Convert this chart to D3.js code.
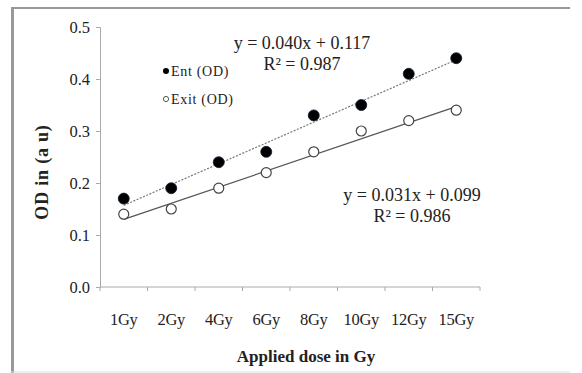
<!DOCTYPE html>
<html>
<head>
<meta charset="utf-8">
<script src="https://cdn.jsdelivr.net/npm/d3@7"></script>
<style>
  body { margin: 0; background: #fff; }
  text { font-family: "Liberation Serif", "Times New Roman", serif; fill: #222; }
</style>
</head>
<body>
<div id="chart"></div>
<script>
var categories = ["1Gy", "2Gy", "4Gy", "6Gy", "8Gy", "10Gy", "12Gy", "15Gy"];
var entValues = [0.17, 0.19, 0.24, 0.26, 0.33, 0.35, 0.41, 0.44];
var exitValues = [0.14, 0.15, 0.19, 0.22, 0.26, 0.30, 0.32, 0.34];
var yTicks = [0.0, 0.1, 0.2, 0.3, 0.4, 0.5];
// trendline [slope, intercept, R²] as printed on the chart
var entTrend = [0.040, 0.117, 0.987];
var exitTrend = [0.031, 0.099, 0.986];

var W = 582, H = 373;
var margin = { top: 27, right: 102, bottom: 86, left: 100 },
    width = W - margin.left - margin.right,
    height = H - margin.top - margin.bottom;

var svg = d3.select("#chart").append("svg")
    .attr("width", W)
    .attr("height", H);

// outer frame
svg.append("line").attr("x1", 11).attr("x2", 570).attr("y1", 8).attr("y2", 8)
    .attr("stroke", "#999").attr("stroke-width", 2);
svg.append("line").attr("x1", 12.5).attr("x2", 12.5).attr("y1", 7).attr("y2", 373)
    .attr("stroke", "#999").attr("stroke-width", 3);
svg.append("line").attr("x1", 11).attr("x2", 570).attr("y1", 372).attr("y2", 372)
    .attr("stroke", "#ddd").attr("stroke-width", 1);

var chart = svg.append("g")
    .attr("transform", "translate(" + margin.left + "," + margin.top + ")");

var xScale = d3.scaleBand().domain(categories).range([0, width]);
var yScale = d3.scaleLinear().domain([0, 0.5]).range([height, 0]);

// y axis
var yAxis = chart.append("g")
    .call(d3.axisLeft(yScale).tickValues(yTicks).tickSize(4).tickPadding(6)
        .tickFormat(d3.format(".1f")));
yAxis.select(".domain").attr("stroke", "#aaa");
yAxis.selectAll(".tick line").attr("stroke", "#aaa");
yAxis.selectAll("text").attr("font-size", "16.5px").attr("fill", "#222")
    .style("font-family", "Liberation Serif, serif");

// x axis, ticks at band boundaries
var xAxis = chart.append("g")
    .attr("transform", "translate(0," + height + ")");
xAxis.append("line").attr("x1", 0).attr("x2", width)
    .attr("stroke", "#aaa");
var bounds = categories.map(function (c) { return xScale(c); }).concat([width]);
xAxis.selectAll(".xt").data(bounds).enter().append("line")
    .attr("x1", function (d) { return d; }).attr("x2", function (d) { return d; })
    .attr("y1", 0).attr("y2", 4).attr("stroke", "#aaa");
xAxis.selectAll(".xl").data(categories).enter().append("text")
    .attr("x", function (d) { return xScale(d) + xScale.bandwidth() / 2; })
    .attr("y", 38)
    .attr("text-anchor", "middle")
    .attr("font-size", "16.5px")
    .attr("letter-spacing", "-0.3px")
    .text(function (d) { return d; });

function xPos(i) { return xScale(categories[i]) + xScale.bandwidth() / 2; }
var n = categories.length;

chart.append("line")
    .attr("x1", xPos(0)).attr("x2", xPos(n - 1))
    .attr("y1", yScale(entTrend[0] * 1 + entTrend[1]))
    .attr("y2", yScale(entTrend[0] * n + entTrend[1]))
    .attr("stroke", "#777").attr("stroke-width", 1.2)
    .attr("stroke-dasharray", "2,1.5");
chart.append("line")
    .attr("x1", xPos(0)).attr("x2", xPos(n - 1))
    .attr("y1", yScale(exitTrend[0] * 1 + exitTrend[1]))
    .attr("y2", yScale(exitTrend[0] * n + exitTrend[1]))
    .attr("stroke", "#555").attr("stroke-width", 1.2);

chart.selectAll(".exitpt").data(exitValues).enter().append("circle")
    .attr("cx", function (d, i) { return xPos(i); })
    .attr("cy", function (d) { return yScale(d); })
    .attr("r", 5)
    .attr("fill", "#fff").attr("stroke", "#444").attr("stroke-width", 1.2);

chart.selectAll(".entpt").data(entValues).enter().append("circle")
    .attr("cx", function (d, i) { return xPos(i); })
    .attr("cy", function (d) { return yScale(d); })
    .attr("r", 5.5)
    .attr("fill", "#000").attr("stroke", "#0d1a33").attr("stroke-width", 0.8);

// equations
var fmt = d3.format(".3f");
function eq(t, x, y) {
    svg.append("text").attr("x", x).attr("y", y).attr("text-anchor", "middle")
        .attr("font-size", "18px")
        .text("y = " + fmt(t[0]) + "x + " + fmt(t[1]));
    svg.append("text").attr("x", x).attr("y", y + 21).attr("text-anchor", "middle")
        .attr("font-size", "18px")
        .text("R² = " + fmt(t[2]));
}
eq(entTrend, 302, 49);
eq(exitTrend, 412, 201);

// legend
svg.append("circle").attr("cx", 166).attr("cy", 71).attr("r", 3).attr("fill", "#000");
svg.append("text").attr("x", 171).attr("y", 76).attr("font-size", "14px")
    .attr("letter-spacing", "0.7px").text("Ent (OD)");
svg.append("circle").attr("cx", 166).attr("cy", 99).attr("r", 2.6)
    .attr("fill", "#fff").attr("stroke", "#444").attr("stroke-width", 0.9);
svg.append("text").attr("x", 171).attr("y", 104).attr("font-size", "14px")
    .attr("letter-spacing", "0.7px").text("Exit (OD)");

// axis titles
svg.append("text").attr("x", 306).attr("y", 362).attr("text-anchor", "middle")
    .attr("font-size", "17px").attr("font-weight", "bold")
    .text("Applied dose in Gy");
svg.append("text")
    .attr("transform", "translate(48,172) rotate(-90)")
    .attr("text-anchor", "middle")
    .attr("font-size", "18px").attr("font-weight", "bold")
    .attr("letter-spacing", "0.8px")
    .text("OD in (a u)");
</script>
</body>
</html>
